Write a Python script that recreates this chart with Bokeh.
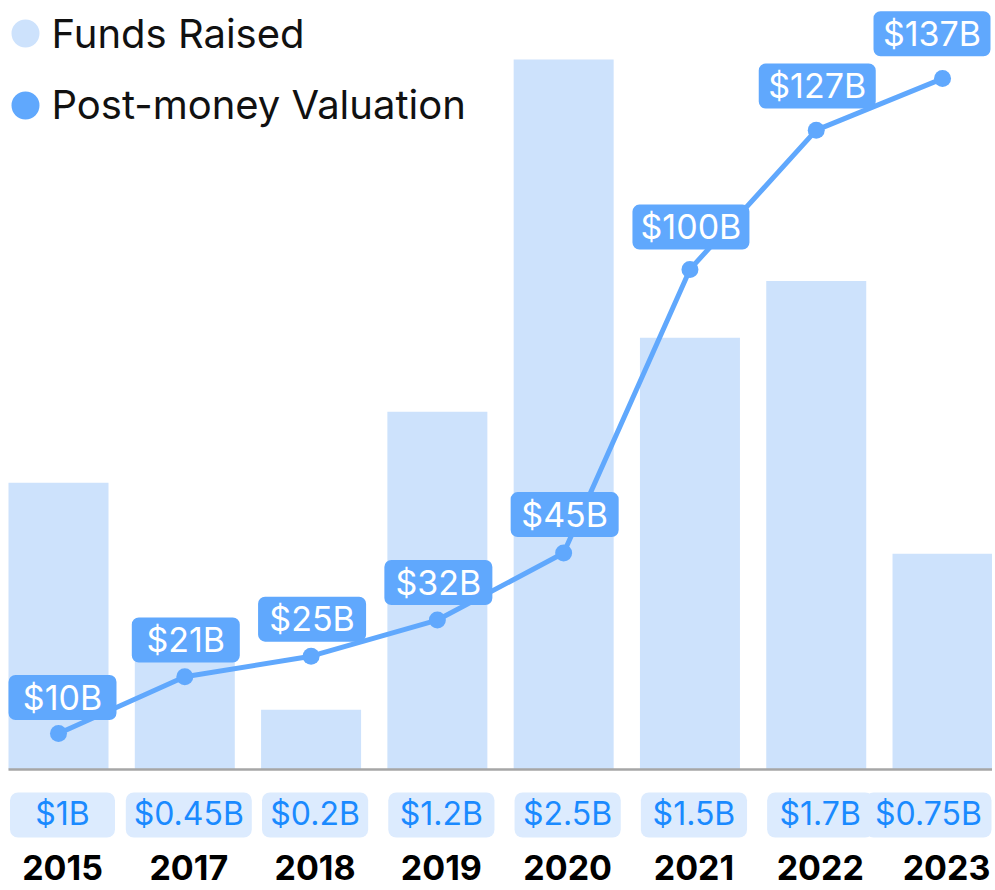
from bokeh.plotting import figure
from bokeh.models import Range1d
from bokeh.core.properties import value
from bokeh.embed import file_html
from bokeh.resources import INLINE

# ---------------- data ----------------
years = ["2015", "2017", "2018", "2019", "2020", "2021", "2022", "2023"]
funds = [1.01, 0.45, 0.21, 1.26, 2.5, 1.52, 1.72, 0.76]          # $B (bar heights)
funds_labels = ["$1B", "$0.45B", "$0.2B", "$1.2B", "$2.5B", "$1.5B", "$1.7B", "$0.75B"]
valuation = [10, 21, 25, 32, 45, 100, 127, 137]                   # $B
valuation_labels = ["$10B", "$21B", "$25B", "$32B", "$45B", "$100B", "$127B", "$137B"]
legend_labels = ["Funds Raised", "Post-money Valuation"]

# ---------------- style ----------------
BAR = "#cde2fc"
LINE = "#60a8fd"
PILL_BG = "#dcebfe"
PILL_TXT = "#1a8aff"
BASE = "#a6a6a6"
FONT = value("Inter")

W, H = 992, 890
CX0, DX = 58.0, 126.29      # canvas x of first category centre, spacing
F0, FS = 769.0, 284.0       # funds: canvas y of zero, px per $B
V0, VS = 784.6, 5.157       # valuation: canvas y of zero, px per $B
SHIFT = 0.36                # baseline correction (fraction of font size)


def dx(cx):
    return (cx - CX0) / DX


def fy(cy):
    return (F0 - cy) / FS


def vy(cy):
    return (V0 - cy) / VS


def base(cy, size):
    return cy - SHIFT * size


def text_w(s):
    return sum(9.0 if ch == "." else 19.8 for ch in s)


idx = list(range(len(years)))

p = figure(width=W, height=H, output_backend="svg", toolbar_location=None,
           x_range=Range1d(dx(0), dx(W)), y_range=Range1d(fy(H), fy(0)),
           x_axis_type=None, y_axis_type=None, min_border=0,
           outline_line_color=None, background_fill_color="white",
           border_fill_color="white")
p.extra_y_ranges = {"val": Range1d(vy(H), vy(0))}

# bars
p.vbar(x=idx, top=funds, bottom=0, width=100 / DX, fill_color=BAR, line_color=None)

# baseline
p.segment(x0=[dx(8)], x1=[dx(992)], y0=[0], y1=[0], line_color=BASE, line_width=2.5)

# valuation line
p.line(idx, valuation, y_range_name="val", line_color=LINE, line_width=5)
p.scatter(idx, valuation, y_range_name="val", size=17, fill_color=LINE, line_color=None)

# valuation labels (boxes)
VSZ = 34
vl, vr, vt, vb, vtx, vty = [], [], [], [], [], []
for i, (v, lab) in enumerate(zip(valuation, valuation_labels)):
    cx = CX0 + DX * i + 1
    w = max(108, text_w(lab) + 18)
    left = max(8, cx - w / 2)
    right = min(W - 2, left + w)
    left = right - w
    cy = V0 - v * VS - (36 + 0.07 * (v - 10))
    vl.append(dx(left)); vr.append(dx(right))
    vt.append(vy(cy - 22.5)); vb.append(vy(cy + 22.5))
    vtx.append(dx((left + right) / 2)); vty.append(vy(base(cy + 12, VSZ)))
p.quad(left=vl, right=vr, top=vt, bottom=vb, y_range_name="val",
       fill_color=LINE, line_color=None, border_radius=7)
p.text(x=vtx, y=vty, text=valuation_labels, y_range_name="val", text_font=FONT,
       text_font_size=f"{VSZ}px", text_color="white", text_align="center",
       text_baseline="alphabetic")

# funds pills
PSZ = 32
pl, pr, ptx = [], [], []
for i, lab in enumerate(funds_labels):
    cx = CX0 + DX * i + 4
    w = max(105, text_w(lab) + 18)
    left = max(8, cx - w / 2)
    right = min(W - 1, left + w)
    left = right - w
    pl.append(dx(left)); pr.append(dx(right)); ptx.append(dx((left + right) / 2))
p.quad(left=pl, right=pr, top=fy(792), bottom=fy(837),
       fill_color=PILL_BG, line_color=None, border_radius=8)
p.text(x=ptx, y=fy(base(825, PSZ)), text=funds_labels, text_font=FONT,
       text_font_size=f"{PSZ}px", text_color=PILL_TXT, text_align="center",
       text_baseline="alphabetic")

# year labels
YSZ = 34
p.text(x=[i + 4 / DX for i in idx], y=fy(base(879, YSZ)), text=years, text_font=FONT,
       text_font_size=f"{YSZ}px", text_font_style="bold", text_color="black",
       text_align="center", text_baseline="alphabetic")

# legend
LSZ = 40
p.scatter(x=[dx(25), dx(25)], y=[fy(33), fy(105)], size=28,
          fill_color=[BAR, LINE], line_color=None)
p.text(x=[dx(51), dx(51)], y=[fy(base(47, LSZ)), fy(base(118.5, LSZ))],
       text=legend_labels, text_font=FONT, text_font_size=f"{LSZ}px",
       text_color="#111111", text_align="left", text_baseline="alphabetic")

open("out.html", "w").write(file_html(p, INLINE))
